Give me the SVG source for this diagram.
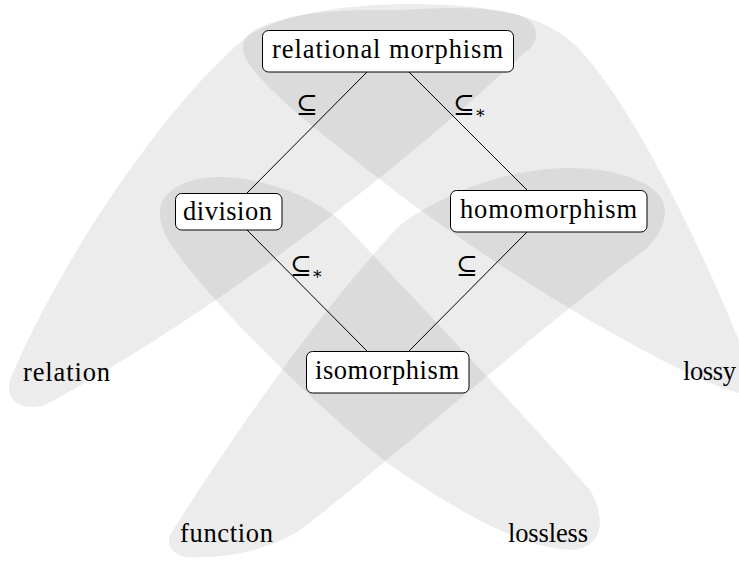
<svg xmlns="http://www.w3.org/2000/svg" width="739" height="561" viewBox="0 0 739 561">
<style>
.blob{fill:#808080;fill-opacity:0.15;stroke:none}
.box{fill:#fff;stroke:#000;stroke-width:1}
.t{font-size:26.5px;fill:#000}
.sym{font-size:26px;fill:#000}
.sub{font-size:17px}
.edge{stroke:#000;stroke-width:1;fill:none}
</style>
<rect width="739" height="561" fill="#fff"/>
<g id="regions">
<path id="region-relation" class="blob" d="M45,405 C20,412 5,400 10,380 C60,260 165,105 245,38 C300,-2 450,-2 515,14 C540,20 542,42 525,52 C470,105 260,290 45,405 Z"/>
<path id="region-lossy" class="blob" d="M250,65 C238,50 242,36 258,28 C300,10 340,10 400,10 C470,6 530,4 575,45 C630,100 700,240 755,380 L760,400 L736,392 C700,385 540,300 400,195 C330,140 275,100 250,65 Z"/>
<path id="region-function" class="blob" d="M200,557 C180,560 165,550 170,535 C230,440 320,310 400,225 C455,185 520,168 570,168 C620,168 665,185 665,210 C665,228 655,240 645,250 C560,310 380,470 300,530 C270,550 230,557 200,557 Z"/>
<path id="region-lossless" class="blob" d="M160,215 C158,195 180,178 217,177 C250,176 305,190 340,220 C420,305 520,410 590,490 C605,515 605,545 575,550 C530,550 470,520 390,465 C320,410 230,320 190,270 C170,245 160,230 160,215 Z"/>
</g>
<g id="connectors">
<line class="edge" x1="367" y1="72" x2="247" y2="193"/>
<line class="edge" x1="409" y1="72" x2="527" y2="190"/>
<line class="edge" x1="247" y1="230" x2="367" y2="351"/>
<line class="edge" x1="527" y1="232" x2="409" y2="351"/>
<g font-family="'DejaVu Serif','DejaVu Sans',serif">
<text class="sym" x="296" y="113">⊆</text>
<text class="sym" x="453" y="113">⊆<tspan class="sub" dy="5">∗</tspan></text>
<text class="sym" x="290" y="274">⊆<tspan class="sub" dy="5">∗</tspan></text>
<text class="sym" x="456" y="274">⊆</text>
</g>
</g>
<g font-family="'Liberation Serif','Times New Roman','DejaVu Serif',serif">
<g id="node-relational-morphism">
<rect class="box" x="262.5" y="30.5" width="251" height="41.5" rx="6"/>
<text class="t" x="272" y="58" textLength="231">relational morphism</text>
</g>
<g id="node-division">
<rect class="box" x="175.5" y="193.5" width="106.5" height="36.5" rx="6"/>
<text class="t" x="183" y="220" textLength="89">division</text>
</g>
<g id="node-homomorphism">
<rect class="box" x="450.5" y="190.5" width="196.5" height="41.5" rx="6"/>
<text class="t" x="460" y="218" textLength="177">homomorphism</text>
</g>
<g id="node-isomorphism">
<rect class="box" x="306.5" y="351.5" width="162.5" height="41.5" rx="6"/>
<text class="t" x="315" y="379" textLength="144">isomorphism</text>
</g>
<g id="labels">
<text class="t" x="23" y="381" textLength="87">relation</text>
<text class="t" x="683" y="380" textLength="53">lossy</text>
<text class="t" x="180" y="542" textLength="93">function</text>
<text class="t" x="508" y="542" textLength="80">lossless</text>
</g>
</g>
</svg>
